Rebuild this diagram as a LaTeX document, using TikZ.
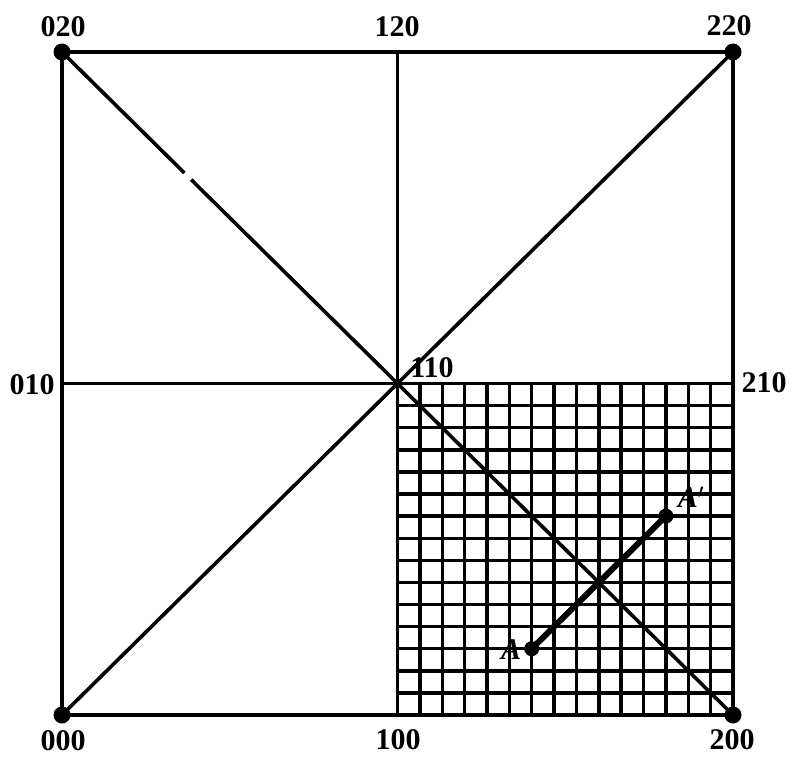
\documentclass[tikz,border=0pt]{standalone}
\usepackage{fontspec}
\setmainfont{Liberation Serif}
\usetikzlibrary{calc}
\tikzset{
  edge/.style={line width=3.6pt, line cap=round},
  gridline/.style={line width=3.4pt},
  vertexdot/.style={circle, fill=black, inner sep=0pt, minimum size=17pt},
  lbl/.style={font=\fontsize{30}{32}\selectfont\bfseries, inner sep=0pt},
  ptlbl/.style={font=\fontsize{30}{32}\selectfont\bfseries\itshape, inner sep=0pt},
}
\begin{document}
\begin{tikzpicture}[x=1pt,y=-1pt]
\useasboundingbox (0,0) rectangle (792,756);
% corners and midpoints
\coordinate (p000) at (62,715);
\coordinate (p100) at (397.5,715);
\coordinate (p200) at (733,715);
\coordinate (p010) at (62,383.5);
\coordinate (p110) at (397.5,383.5);
\coordinate (p210) at (733,383.5);
\coordinate (p020) at (62,52);
\coordinate (p120) at (397.5,52);
\coordinate (p220) at (733,52);
% grid in lower-right quadrant
\foreach \i in {1,...,14}{
  \draw[gridline] ($(p110)!\i/15!(p210)$) -- ($(p100)!\i/15!(p200)$);
  \draw[gridline] ($(p110)!\i/15!(p100)$) -- ($(p210)!\i/15!(p200)$);
}
% outer square and cross lines
\draw[edge] (p000) -- (p200) -- (p220) -- (p020) -- cycle;
\draw[edge] (p010) -- (p210);
\draw[edge] (p120) -- (p100);
\draw[edge] (p000) -- (p220);
\coordinate (gapa) at ($(p020)!0.365!(p110)$);
\coordinate (gapb) at ($(p020)!0.385!(p110)$);
\draw[edge, line cap=butt] (p020) -- (gapa);
\draw[edge, line cap=butt] (gapb) -- (p200);
% points A and A'
\node[vertexdot, minimum size=15pt] (A) at ($(p100)!6/15!(p200) + (0,-3*22.1)$) {};
\node[vertexdot, minimum size=15pt] (Ap) at ($(p100)!12/15!(p200) + (0,-9*22.1)$) {};
\draw[line width=6pt] (A.center) -- (Ap.center);
\node[ptlbl] (Alab) at (511,650) {A};
\node[ptlbl] (Aplab) at (691,497) {A$'$};
% corner dots
\node[vertexdot] (d000) at (p000) {};
\node[vertexdot] (d200) at (p200) {};
\node[vertexdot] (d020) at (p020) {};
\node[vertexdot] (d220) at (p220) {};
% labels
\node[lbl] (l020) at (63,27) {020};
\node[lbl] (l120) at (397,27) {120};
\node[lbl] (l220) at (729,26) {220};
\node[lbl] (l010) at (32,385) {010};
\node[lbl] (l110) at (432,368) {110};
\node[lbl] (l210) at (764,383) {210};
\node[lbl] (l000) at (63,741) {000};
\node[lbl] (l100) at (398,740) {100};
\node[lbl] (l200) at (732,740) {200};
\end{tikzpicture}
\end{document}
